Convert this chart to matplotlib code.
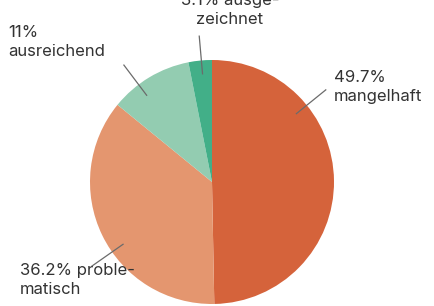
import numpy as np
import matplotlib.pyplot as plt

# Anteile der Bewertungen
labels = ['mangelhaft', 'proble-\nmatisch', 'ausreichend', 'ausge-\nzeichnet']
values = [49.7, 36.2, 11.0, 3.1]
colors = ['#D5633B', '#E4966F', '#93CCB1', '#42AF88']

plt.rcParams['font.family'] = ['Inter', 'DejaVu Sans']

fig = plt.figure(figsize=(4.34, 3.06), dpi=100)
ax = fig.add_axes([0, 0, 1, 1])

cx, cy, r = 212, 124, 122
ax.pie(values, colors=colors, startangle=90, counterclock=False,
       center=(cx, cy), radius=r, frame=True,
       wedgeprops=dict(linewidth=0))
ax.set_xlim(0, 434)
ax.set_ylim(0, 306)
ax.set_aspect('equal')
ax.axis('off')

# Beschriftungen: Winkel der Hinweislinie, Textposition, Ausrichtung
angles = [39, 215, 127, 95]
text_pos = [(334, 236), (20, 43), (8, 281), (230, 313)]
aligns = ['left', 'left', 'left', 'center']
texts = [f'{values[0]:g}%\n{labels[0]}',
         f'{values[1]:g}% {labels[1]}',
         f'{values[2]:g}%\n{labels[2]}',
         f'{values[3]:g}% {labels[3]}']

for ang, pos, ha, txt in zip(angles, text_pos, aligns, texts):
    a = np.deg2rad(ang)
    r1, r2 = 0.89 * r, 1.2 * r
    ax.plot([cx + r1 * np.cos(a), cx + r2 * np.cos(a)],
            [cy + r1 * np.sin(a), cy + r2 * np.sin(a)],
            color='#6b6b6b', lw=0.9)
    ax.text(pos[0], pos[1], txt, ha=ha, va='top', fontsize=12,
            color='#333333', linespacing=1.35)

fig.savefig('out.png', dpi=100)
